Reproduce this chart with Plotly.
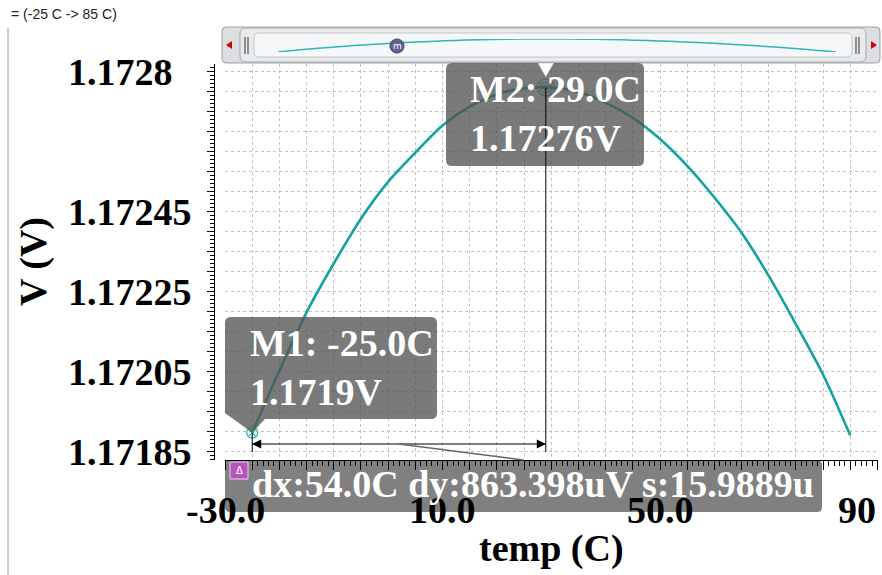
import plotly.graph_objects as go

# ---------------- data ----------------
temps = [-25, -20, -15, -10, -5, 0, 5, 10, 15, 20, 25, 30, 35, 40, 45, 50, 55, 60, 65, 70, 75, 80, 85]
volts = [1.171897, 1.172052, 1.172198, 1.172320, 1.172432, 1.172524, 1.172597, 1.172665,
         1.172712, 1.172743, 1.172758, 1.172760, 1.172749, 1.172722, 1.172684, 1.172631,
         1.172564, 1.172485, 1.172397, 1.172289, 1.172168, 1.172042, 1.171890]

marker_names = ["M1", "M2"]
marker_temps = [-25.0, 29.0]
marker_volts = [1.171897, 1.17276]
marker_temp_labels = ["M1: -25.0C", "M2: 29.0C"]
marker_volt_labels = ["1.1719V", "1.17276V"]

ytick_vals = [1.1728, 1.17245, 1.17225, 1.17205, 1.17185]
ytick_text = ["1.1728", "1.17245", "1.17225", "1.17205", "1.17185"]
xtick_vals = [-30, 10, 50, 90]
xtick_text = ["-30.0", "10.0", "50.0", "90"]

delta_text = "dx:54.0C dy:863.398uV s:15.9889u"
sweep_text = "= (-25 C -> 85 C)"
x_title = "temp (C)"
y_title = "V (V)"

# ---------------- geometry helpers (pixels -> paper) ----------------
W, H = 882, 575
PL, PR, PT, PB = 225, 878, 64, 460
XR = [-30, 90.09]
YR = [1.17182875, 1.17281875]

def X(px):
    return px / W

def Y(py):
    return 1 - py / H

def tx(t):
    return PL + (t - XR[0]) / (XR[1] - XR[0]) * (PR - PL)

def vy(v):
    return PB - (v - YR[0]) / (YR[1] - YR[0]) * (PB - PT)

def path(cmds):
    out = []
    for c in cmds:
        if c[0] == "Z":
            out.append("Z")
        elif c[0] == "Q":
            out.append("Q %.6f,%.6f %.6f,%.6f" % (X(c[1]), Y(c[2]), X(c[3]), Y(c[4])))
        else:
            out.append("%s %.6f,%.6f" % (c[0], X(c[1]), Y(c[2])))
    return " ".join(out)

def rrect(x0, y0, x1, y1, r):
    return path([("M", x0 + r, y0), ("L", x1 - r, y0), ("Q", x1, y0, x1, y0 + r),
                 ("L", x1, y1 - r), ("Q", x1, y1, x1 - r, y1), ("L", x0 + r, y1),
                 ("Q", x0, y1, x0, y1 - r), ("L", x0, y0 + r), ("Q", x0, y0, x0 + r, y0), ("Z",)])

SERIF = "Liberation Serif, Times New Roman, serif"
FS = 38
TEAL = "#12a3a1"

fig = go.Figure()

# main curve
fig.add_trace(go.Scatter(x=temps, y=volts, mode="lines",
                         line=dict(color=TEAL, width=2.6, shape="spline", smoothing=0.8),
                         hoverinfo="skip", xaxis="x", yaxis="y"))
# M1 marker
fig.add_trace(go.Scatter(x=marker_temps[:1], y=marker_volts[:1], mode="markers",
                         marker=dict(symbol="circle-x-open", size=11, color="#3cb4b2",
                                     line=dict(width=1.3)), hoverinfo="skip"))
# M2 marker (concentric rings)
fig.add_trace(go.Scatter(x=marker_temps[1:] * 3, y=marker_volts[1:] * 3, mode="markers",
                         marker=dict(symbol="circle-open", size=[17, 11, 5], color="#1f6f6d",
                                     line=dict(width=1.2)), hoverinfo="skip"))
# mini curve in the slider
fig.add_trace(go.Scatter(x=temps, y=volts, mode="lines",
                         line=dict(color="#2fb5b3", width=1.5, shape="spline"),
                         hoverinfo="skip", xaxis="x2", yaxis="y2"))

shapes = []
# ---- slider ----
shapes.append(dict(type="path", xref="paper", yref="paper", path=rrect(222, 27, 880, 63, 4),
                   fillcolor="#dcdee1", line=dict(color="#9aa0a6", width=1), layer="below"))
shapes.append(dict(type="path", xref="paper", yref="paper", path=rrect(240, 28, 866, 62, 6),
                   fillcolor="#e8eaec", line=dict(color="#a3a8ad", width=1), layer="below"))
shapes.append(dict(type="path", xref="paper", yref="paper", path=rrect(254, 33, 852, 57, 5),
                   fillcolor="#f6f7f8", line=dict(color="#c2c6ca", width=1), layer="below"))
shapes.append(dict(type="path", xref="paper", yref="paper",
                   path=path([("M", 226, 45), ("L", 232, 41), ("L", 232, 49), ("Z",)]),
                   fillcolor="#d40000", line=dict(width=0), layer="above"))
shapes.append(dict(type="path", xref="paper", yref="paper",
                   path=path([("M", 877, 45), ("L", 871, 41), ("L", 871, 49), ("Z",)]),
                   fillcolor="#d40000", line=dict(width=0), layer="above"))
for hx in (245, 248, 856, 859):
    shapes.append(dict(type="line", xref="paper", yref="paper", x0=X(hx), x1=X(hx), y0=Y(37), y1=Y(54),
                       line=dict(color="#333333", width=1), layer="above"))

# ---- marker boxes ----
m1x, m1y = tx(marker_temps[0]), vy(marker_volts[0])
m2x, m2y = tx(marker_temps[1]), vy(marker_volts[1])
BOX = "rgba(82,82,82,0.77)"
shapes.append(dict(type="path", xref="paper", yref="paper",
                   path=path([("M", 231, 317), ("L", 431, 317), ("Q", 437, 317, 437, 323),
                              ("L", 437, 413), ("Q", 437, 419, 431, 419), ("L", 265, 419),
                              ("L", m1x, m1y), ("L", 225, 413), ("L", 225, 323),
                              ("Q", 225, 317, 231, 317), ("Z",)]),
                   fillcolor=BOX, line=dict(width=0), layer="above"))
shapes.append(dict(type="path", xref="paper", yref="paper", path=rrect(446, 63, 644, 166, 6),
                   fillcolor=BOX, line=dict(width=0), layer="above"))
# top indicator triangle for M2
shapes.append(dict(type="path", xref="paper", yref="paper",
                   path=path([("M", m2x - 8, 63), ("L", m2x + 8, 63), ("L", m2x, 77), ("Z",)]),
                   fillcolor="white", line=dict(color="#a0a0a0", width=0.5), layer="above"))
# vertical marker lines
shapes.append(dict(type="line", xref="paper", yref="paper", x0=X(m2x), x1=X(m2x), y0=Y(m2y), y1=Y(452),
                   line=dict(color="black", width=1), layer="above"))
shapes.append(dict(type="line", xref="paper", yref="paper", x0=X(m1x), x1=X(m1x), y0=Y(m1y), y1=Y(452),
                   line=dict(color="black", width=1), layer="above"))
# delta arrow
DY = 444
shapes.append(dict(type="line", xref="paper", yref="paper", x0=X(m1x), x1=X(m2x), y0=Y(DY), y1=Y(DY),
                   line=dict(color="black", width=1), layer="above"))
shapes.append(dict(type="path", xref="paper", yref="paper",
                   path=path([("M", m1x, DY), ("L", m1x + 9, DY - 4.5), ("L", m1x + 9, DY + 4.5), ("Z",)]),
                   fillcolor="black", line=dict(width=0), layer="above"))
shapes.append(dict(type="path", xref="paper", yref="paper",
                   path=path([("M", m2x, DY), ("L", m2x - 9, DY - 4.5), ("L", m2x - 9, DY + 4.5), ("Z",)]),
                   fillcolor="black", line=dict(width=0), layer="above"))
# delta box
DB = (225, 460, 822, 512)
shapes.append(dict(type="line", xref="paper", yref="paper", x0=X((m1x + m2x) / 2), y0=Y(DY),
                   x1=X((DB[0] + DB[2]) / 2), y1=Y(DB[1]), line=dict(color="#666666", width=1.5), layer="above"))
shapes.append(dict(type="path", xref="paper", yref="paper", path=rrect(*DB, 5),
                   fillcolor="rgba(110,110,110,0.88)", line=dict(width=0), layer="below"))
shapes.append(dict(type="rect", xref="paper", yref="paper", x0=X(230), x1=X(248), y0=Y(479), y1=Y(462),
                   fillcolor="#b555ba", line=dict(color="#f0d0f0", width=1), layer="above"))
# slider knob
shapes.append(dict(type="circle", xref="paper", yref="paper", x0=X(390), x1=X(404), y0=Y(53), y1=Y(39),
                   fillcolor="#5f6394", line=dict(color="#3b3e68", width=1), layer="above"))
# left border line
shapes.append(dict(type="line", xref="paper", yref="paper", x0=X(8), x1=X(8), y0=Y(28), y1=Y(575),
                   line=dict(color="#9a9a9a", width=1), layer="above"))

ann = []
bold = dict(family=SERIF, size=FS, color="black", weight="bold")
wbold = dict(family=SERIF, size=FS, color="white", weight="bold")
for v, t in zip(ytick_vals, ytick_text):
    ann.append(dict(text=t, xref="paper", yref="y", x=X(66), y=v, xanchor="left", yanchor="middle",
                    showarrow=False, font=bold))
for v, t in zip(xtick_vals, xtick_text):
    ann.append(dict(text=t, xref="x", yref="paper", x=v, y=Y(510), xanchor="right" if v == xtick_vals[-1] else "center",
                    yanchor="middle", showarrow=False, font=bold))
ann.append(dict(text=x_title, xref="paper", yref="paper", x=X(551), y=Y(548), xanchor="center", yanchor="middle",
                showarrow=False, font=bold))
ann.append(dict(text=y_title, xref="paper", yref="paper", x=X(33), y=Y(262), xanchor="center", yanchor="middle",
                textangle=-90, showarrow=False, font=bold))
ann.append(dict(text=marker_temp_labels[0] + "<br>" + marker_volt_labels[0], xref="paper", yref="paper",
                x=X(248), y=Y(367), xanchor="left", yanchor="middle", align="left", showarrow=False, font=wbold))
ann.append(dict(text=marker_temp_labels[1] + "<br>" + marker_volt_labels[1], xref="paper", yref="paper",
                x=X(468), y=Y(113), xanchor="left", yanchor="middle", align="left", showarrow=False, font=wbold))
ann.append(dict(text=delta_text, xref="paper", yref="paper", x=X(250), y=Y(484), xanchor="left", yanchor="middle",
                showarrow=False, font=wbold))
ann.append(dict(text="Δ", xref="paper", yref="paper", x=X(239), y=Y(470), xanchor="center", yanchor="middle",
                showarrow=False, font=dict(family="DejaVu Sans", size=10, color="white")))
ann.append(dict(text="m", xref="paper", yref="paper", x=X(397), y=Y(46), xanchor="center", yanchor="middle",
                showarrow=False, font=dict(family="DejaVu Sans", size=9, color="white")))
ann.append(dict(text=sweep_text, xref="paper", yref="paper", x=X(9), y=Y(14), xanchor="left", yanchor="middle",
                showarrow=False, font=dict(family="Liberation Sans, Arial, sans-serif", size=14, color="#222222")))

GRID = "#c2c2c2"
fig.update_layout(
    width=W, height=H, autosize=False,
    margin=dict(l=0, r=0, t=0, b=0, pad=0),
    paper_bgcolor="white", plot_bgcolor="rgba(0,0,0,0)", showlegend=False,
    xaxis=dict(domain=[X(PL), X(PR)], range=XR, anchor="y", showline=True, linecolor="black", linewidth=1,
               ticks="outside", ticklen=9, tickcolor="black", tick0=-30, dtick=5,
               minor=dict(dtick=1, ticks="outside", ticklen=5, tickcolor="black", showgrid=False),
               showgrid=True, gridcolor=GRID, griddash="dot", gridwidth=1, zeroline=False,
               showticklabels=False, automargin=False),
    yaxis=dict(domain=[Y(PB), Y(PT)], range=YR, anchor="free", position=X(214), side="left",
               showline=True, linecolor="black", linewidth=1,
               ticks="outside", ticklen=7, tickcolor="black", tick0=1.1728, dtick=0.00005,
               minor=dict(dtick=0.00001, ticks="outside", ticklen=4, tickcolor="black", showgrid=False),
               showgrid=True, gridcolor=GRID, griddash="dot", gridwidth=1, zeroline=False,
               showticklabels=False, automargin=False),
    xaxis2=dict(domain=[X(278), X(836)], range=[min(temps), max(temps)], anchor="y2", visible=False),
    yaxis2=dict(domain=[Y(52), Y(39)], range=[min(volts), max(volts)], anchor="x2", visible=False),
    shapes=shapes, annotations=ann,
)

fig.write_html("out.html", include_plotlyjs=True, config={"displayModeBar": False},
               post_script="document.body.style.margin='0';document.body.style.overflow='hidden';")
